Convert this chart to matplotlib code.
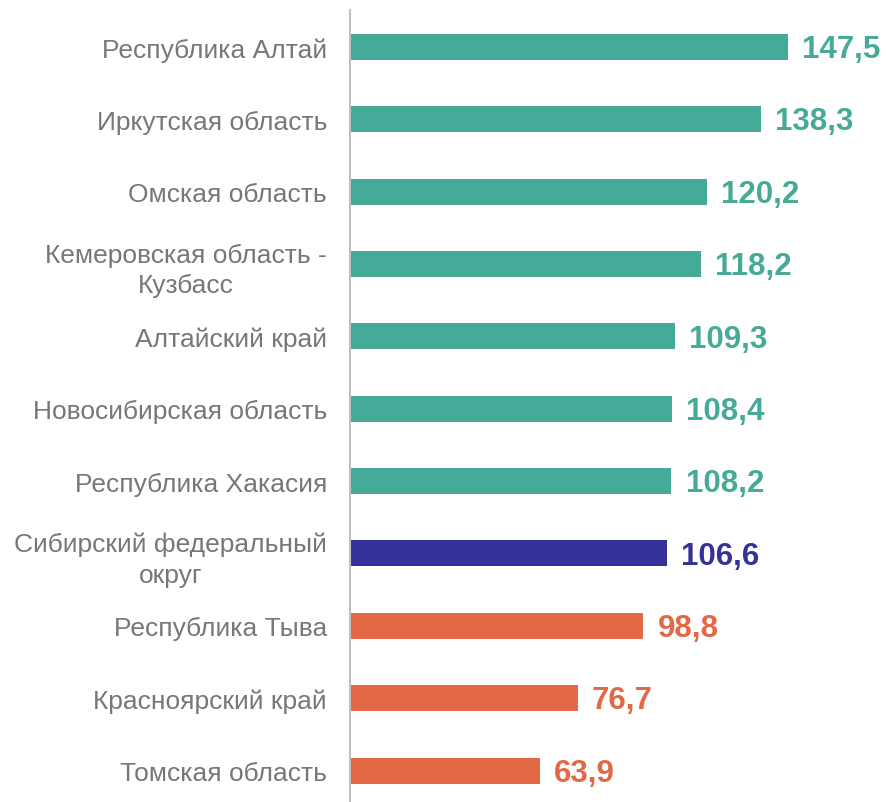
import matplotlib
matplotlib.use("Agg")
import matplotlib.pyplot as plt

categories = ["Республика Алтай", "Иркутская область", "Омская область",
              "Кемеровская область -\nКузбасс", "Алтайский край",
              "Новосибирская область", "Республика Хакасия",
              "Сибирский федеральный\nокруг", "Республика Тыва",
              "Красноярский край", "Томская область"]
values = [147.5, 138.3, 120.2, 118.2, 109.3, 108.4, 108.2, 106.6, 98.8, 76.7, 63.9]
value_labels = ["147,5", "138,3", "120,2", "118,2", "109,3", "108,4", "108,2",
                "106,6", "98,8", "76,7", "63,9"]

TEAL = "#45AB98"
NAVY = "#353199"
ORANGE = "#E36846"
colors = [TEAL] * 7 + [NAVY] + [ORANGE] * 3

plt.rcParams['font.family'] = ['Liberation Sans', 'DejaVu Sans']

W, H = 886, 803
fig = plt.figure(figsize=(W / 100, H / 100), dpi=100)
ax = fig.add_axes([350 / W, 0, (W - 350) / W, (H - 11) / H])

y = list(range(len(categories)))
ax.barh(y, values, height=0.36, color=colors)
ax.set_xlim(0, (W - 350) / 2.97)
ax.set_ylim(10.435, -0.511)

for yi, v, lab, c in zip(y, values, value_labels, colors):
    ax.text(v + 4.8, yi + 0.03, lab, va="center", ha="left", fontsize=22.5,
            fontweight="bold", color=c)

ax.set_yticks(y)
ax.set_yticklabels(categories, fontsize=19, color="#777777", linespacing=1.35,
                   multialignment="center")
ax.tick_params(axis="y", length=0, pad=16.5)
ax.set_xticks([])
for s in ["top", "right", "bottom"]:
    ax.spines[s].set_visible(False)
ax.spines["left"].set_color("#BFBFBF")
ax.spines["left"].set_linewidth(1.5)

fig.savefig("out.png", dpi=100)
